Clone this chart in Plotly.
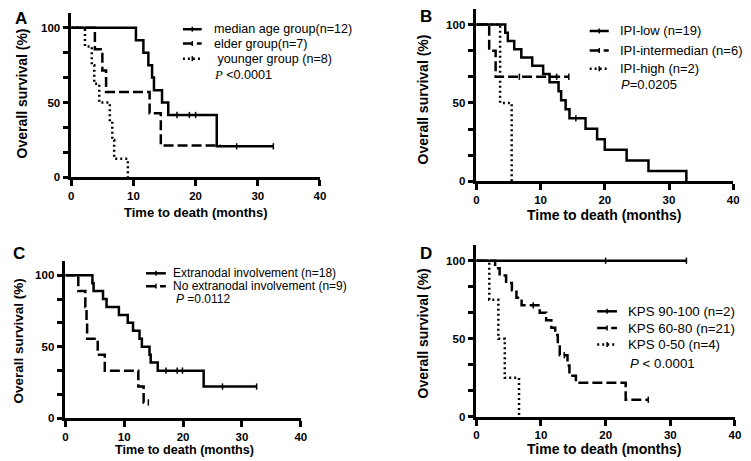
import plotly.graph_objects as go

W, H = 751, 461

# ---------------- DATA ----------------
# Panel A (age groups)
a_median_t = [0, 10.4, 11.6, 12.4, 13.0, 13.3, 14.6, 15.6, 23.4, 32.5]
a_median_s = [100, 91.7, 83.3, 75.0, 66.7, 58.3, 50.0, 41.7, 20.8, 20.8]
a_median_c = [17.0, 19.0, 20.0, 26.6, 32.5]
a_elder_t = [0, 3.8, 5.0, 5.6, 12.6, 14.4, 24.0]
a_elder_s = [100, 85.7, 71.4, 57.1, 42.9, 21.4, 21.4]
a_elder_c = []
a_young_t = [0, 2.2, 3.3, 3.7, 4.5, 6.2, 6.6, 6.9, 9.1]
a_young_s = [100, 87.5, 75.0, 62.5, 50.0, 37.5, 25.0, 12.5, 0]
a_young_c = []

# Panel B (IPI)
b_low_t = [0, 4.5, 4.9, 5.9, 7.0, 8.7, 10.4, 11.4, 12.8, 13.2, 13.9, 14.5, 17.0, 18.8, 20.0, 23.4, 26.8, 32.7]
b_low_s = [100, 94.7, 89.5, 84.2, 78.9, 73.7, 68.4, 63.2, 57.5, 51.7, 46.0, 40.2, 33.5, 26.8, 20.1, 13.4, 6.7, 0]
b_low_c = [15.5]
b_int_t = [0, 2.0, 3.0, 14.4]
b_int_s = [100, 83.3, 66.7, 66.7]
b_int_c = [6.7, 11.4, 12.5, 14.4]
b_high_t = [0, 3.7, 5.5]
b_high_s = [100, 50.0, 0]
b_high_c = []

# Panel C (extranodal involvement)
c_ext_t = [0, 4.6, 4.8, 6.4, 7.0, 9.1, 10.6, 11.5, 12.6, 13.0, 14.3, 14.5, 15.7, 23.5, 32.5]
c_ext_s = [100, 94.4, 88.9, 83.3, 77.8, 72.2, 66.7, 61.1, 55.6, 50.0, 44.4, 38.9, 33.3, 22.2, 22.2]
c_ext_c = [17.1, 19.0, 19.9, 26.7, 32.5]
c_no_t = [0, 2.2, 3.4, 3.6, 3.7, 5.5, 6.7, 12.4, 13.3, 14.1]
c_no_s = [100, 88.9, 77.8, 66.7, 55.6, 44.4, 33.3, 22.2, 11.1, 11.1]
c_no_c = [14.1]

# Panel D (KPS)
d_k1_t = [0, 32.5]
d_k1_s = [100, 100]
d_k1_c = [20.0, 32.5]
d_k2_t = [0, 2.9, 3.6, 4.6, 5.5, 6.2, 7.0, 9.8, 10.8, 11.6, 12.2, 12.6, 12.9, 14.1, 14.4, 15.4, 23.1, 26.6]
d_k2_s = [100, 95.2, 90.5, 85.7, 81.0, 76.2, 71.4, 66.7, 61.9, 57.1, 52.4, 46.0, 39.5, 32.9, 26.3, 21.9, 11.0, 11.0]
d_k2_c = [8.8, 13.6, 26.6]
d_k3_t = [0, 2.0, 3.4, 4.4, 6.6]
d_k3_s = [100, 75.0, 50.0, 25.0, 0]
d_k3_c = []

x_ticks = [0, 10, 20, 30, 40]
y_ticks = [0, 100 / 6, 200 / 6, 50, 400 / 6, 500 / 6, 100]
y_ticktext = ["0", "", "", "50", "", "", "100"]

legend_a = ["median age group(n=12)", "elder group(n=7)", "\u00a0younger group (n=8)"]
legend_b = ["IPI-low (n=19)", "IPI-intermedian (n=6)", "IPI-high (n=2)"]
legend_c = ["Extranodal involvement (n=18)", "No extranodal involvement (n=9)"]
legend_d = ["KPS 90-100 (n=2)", "KPS 60-80 (n=21)", "KPS 0-50 (n=4)"]
p_a = "<span style='font-family:Liberation Serif'><i>P</i></span> <0.0001"
p_b = "<i>P</i>=0.0205"
p_c = "<i>P</i> =0.0112"
p_d = "<i>P</i> < 0.0001"

# ---------------- STYLE ----------------
FONT = "Liberation Sans, Arial, sans-serif"
DASHES = {"solid": "solid", "dash": "10px,4px", "dot": "2px,3px"}
LW = 2.5


def px_x(x):
    return x / W


def px_y(y):
    return 1 - y / H


def surv_at(ts, ss, t):
    val = ss[0]
    for ti, si in zip(ts, ss):
        if ti <= t:
            val = si
    return val


fig = go.Figure()

panels = [
    dict(xa="x", ya="y", xd=(61, 312.7), yd=(171.7, 4.8),
         curves=[(a_median_t, a_median_s, a_median_c, "solid"),
                 (a_elder_t, a_elder_s, a_elder_c, "dash"),
                 (a_young_t, a_young_s, a_young_c, "dot")]),
    dict(xa="x2", ya="y2", xd=(471, 731), yd=(175.7, 0.8),
         curves=[(b_low_t, b_low_s, b_low_c, "solid"),
                 (b_int_t, b_int_s, b_int_c, "dash"),
                 (b_high_t, b_high_s, b_high_c, "dot")]),
    dict(xa="x3", ya="y3", xd=(55, 293.3), yd=(415.7, 256.2),
         curves=[(c_ext_t, c_ext_s, c_ext_c, "solid"),
                 (c_no_t, c_no_s, c_no_c, "dash")]),
    dict(xa="x4", ya="y4", xd=(471, 732.7), yd=(414.3, 240.2),
         curves=[(d_k1_t, d_k1_s, d_k1_c, "solid"),
                 (d_k2_t, d_k2_s, d_k2_c, "dash"),
                 (d_k3_t, d_k3_s, d_k3_c, "dot")]),
]

layout_axes = {}
for i, p in enumerate(panels):
    for ts, ss, cs, style in p["curves"]:
        fig.add_trace(go.Scatter(
            x=ts, y=ss, mode="lines", line=dict(color="black", width=LW, shape="hv", dash=DASHES[style]),
            xaxis=p["xa"], yaxis=p["ya"], showlegend=False, hoverinfo="skip"))
        if cs:
            fig.add_trace(go.Scatter(
                x=cs, y=[surv_at(ts, ss, c) for c in cs], mode="markers",
                marker=dict(symbol="line-ns", size=4.5, line=dict(color="black", width=1.5)),
                xaxis=p["xa"], yaxis=p["ya"], showlegend=False, hoverinfo="skip", cliponaxis=False))
    suffix = "" if i == 0 else str(i + 1)
    common = dict(showline=True, linecolor="black", linewidth=LW, ticks="outside", ticklen=6,
                  tickwidth=LW, tickcolor="black", showgrid=False, zeroline=False,
                  tickfont=dict(family=FONT, size=11.5, color="black", weight="bold"))
    layout_axes["xaxis" + suffix] = dict(
        domain=[px_x(p["xd"][0]), px_x(p["xd"][1])], range=[0, 40], tickvals=x_ticks,
        anchor=p["ya"], **common)
    layout_axes["yaxis" + suffix] = dict(
        domain=[px_y(p["yd"][0]), px_y(p["yd"][1])], range=[0, 110], tickvals=y_ticks,
        ticktext=y_ticktext, anchor=p["xa"], **common)

fig.update_layout(**layout_axes)

annotations = []
shapes = []


def add_text(x, y, text, size, bold=False, anchor="left", angle=0):
    annotations.append(dict(
        x=px_x(x), y=px_y(y), xref="paper", yref="paper", text=text, showarrow=False,
        xanchor=anchor, yanchor="middle", textangle=angle, borderpad=0,
        font=dict(family=FONT, size=size, color="black", weight="bold" if bold else "normal")))


def add_sample(x0, x1, y, style):
    shapes.append(dict(type="line", xref="paper", yref="paper", x0=px_x(x0), x1=px_x(x1),
                       y0=px_y(y), y1=px_y(y),
                       line=dict(color="black", width=LW, dash=DASHES[style])))
    xm = (x0 + x1) / 2
    shapes.append(dict(type="line", xref="paper", yref="paper", x0=px_x(xm), x1=px_x(xm),
                       y0=px_y(y - 2.5), y1=px_y(y + 2.5), line=dict(color="black", width=1.5)))


styles3 = ["solid", "dash", "dot"]

# Panel letters
add_text(10, 11, "A", 17, bold=True, anchor="center")
add_text(420.5, 9, "B", 17, bold=True, anchor="center")
add_text(8.5, 248.5, "C", 17, bold=True, anchor="center")
add_text(420.5, 249, "D", 17, bold=True, anchor="center")

# Axis titles
xt = "Time to death (months)"
yt = "Overall survival (%)"
add_text(187, 207, xt, 13, bold=True, anchor="center")
add_text(601, 210, xt, 14, bold=True, anchor="center")
add_text(175.5, 448, xt, 12.6, bold=True, anchor="center")
add_text(601, 447, xt, 14, bold=True, anchor="center")
add_text(10.7, 87, yt, 14, bold=True, anchor="center", angle=-90)
add_text(416.7, 93, yt, 14, bold=True, anchor="center", angle=-90)
add_text(7.5, 337.5, yt, 13.5, bold=True, anchor="center", angle=-90)
add_text(416.7, 330, yt, 14, bold=True, anchor="center", angle=-90)

# Legends
for k, (txt, yy) in enumerate(zip(legend_a, [21.5, 36, 51.3])):
    add_sample(174, 193, yy, styles3[k])
    add_text(204, yy, txt, 12.6)
add_text(204, 67.5, p_a, 12.6)

for k, (txt, yy) in enumerate(zip(legend_b, [23.3, 43, 61.5])):
    add_sample(585.7, 605, yy, styles3[k])
    add_text(615.7, yy, txt, 13)
add_text(616.7, 77.5, p_b, 13)

for k, (txt, yy) in enumerate(zip(legend_c, [268.8, 281.8])):
    add_sample(136.7, 156.7, yy, styles3[k])
    add_text(163.3, yy, txt, 12)
add_text(166, 295, p_c, 12)

for k, (txt, yy) in enumerate(zip(legend_d, [307.3, 324.3, 341])):
    add_sample(593.3, 613.3, yy, styles3[k])
    add_text(623.3, yy, txt, 13.3)
add_text(625.5, 360.5, p_d, 13.3)

fig.update_layout(
    width=W, height=H, margin=dict(l=0, r=0, t=0, b=0),
    paper_bgcolor="white", plot_bgcolor="white",
    annotations=annotations, shapes=shapes, showlegend=False,
    font=dict(family=FONT, color="black"),
)

fig.write_html("out.html")
